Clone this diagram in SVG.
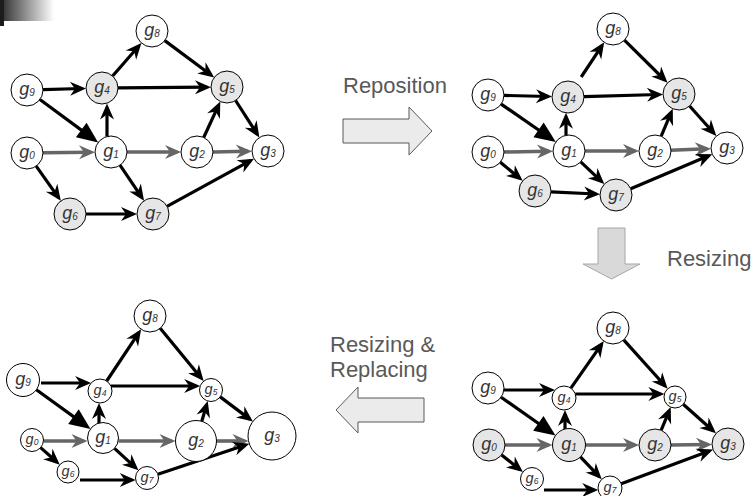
<svg xmlns="http://www.w3.org/2000/svg" width="752" height="496" viewBox="0 0 752 496">
  <defs>
    <linearGradient id="fade" x1="0" y1="0" x2="1" y2="0">
      <stop offset="0" stop-color="#3a3a3a"/>
      <stop offset="1" stop-color="#ffffff"/>
    </linearGradient>
    <marker id="ah" markerUnits="userSpaceOnUse" markerWidth="16" markerHeight="14" refX="12" refY="7" orient="auto" overflow="visible">
      <path d="M0,0 L16,7 L0,14 L5,7 z" fill="#000"/>
    </marker>
    <marker id="ahg" markerUnits="userSpaceOnUse" markerWidth="16" markerHeight="14" refX="12" refY="7" orient="auto" overflow="visible">
      <path d="M0,0 L16,7 L0,14 L5,7 z" fill="#666"/>
    </marker>
    <marker id="ahb" markerUnits="userSpaceOnUse" markerWidth="21" markerHeight="18" refX="15" refY="9" orient="auto" overflow="visible">
      <path d="M0,0 L21,9 L0,18 z" fill="#000"/>
    </marker>
  </defs>
  <style>
    .e { stroke: #000; stroke-width: 3.2; fill: none; marker-end: url(#ah); }
    .g { stroke: #666; stroke-width: 3.6; fill: none; marker-end: url(#ahg); }
    .big { marker-end: url(#ahb); }
    .node circle { fill: #ffffff; stroke: #000; stroke-width: 1; }
    .node.hl circle { fill: #e6e6e6; }
    .node text { font-family: "Liberation Sans", Arial, sans-serif; font-style: italic; font-size: 18px; fill: #333; text-anchor: middle; }
    .node.sm text { font-size: 14.5px; }
    .node text tspan { font-size: 10px; }
    .node.sm text tspan { font-size: 8.5px; }
    .caption { font-family: "Liberation Sans", Arial, sans-serif; font-size: 22px; fill: #595959; }
    .bigarrow { fill: #ebebeb; stroke: #595959; stroke-width: 1; }
    .bigarrow.soft { fill: #d9d9d9; stroke: #a6a6a6; }
  </style>

  <rect width="752" height="496" fill="#ffffff"/>

  <!-- corner tab -->
  <rect x="4" y="0" width="50" height="21" fill="url(#fade)"/>
  <rect x="0" y="0" width="4" height="26" fill="#1c1c1c"/>

  <!-- step arrows and captions -->
  <g id="step-reposition">
    <polygon class="bigarrow" points="343,119 409,119 409,107 432,131 409,155 409,143 343,143"/>
    <text class="caption" x="343" y="93">Reposition</text>
  </g>
  <g id="step-resizing">
    <polygon class="bigarrow soft" points="598,228 625,228 625,264 640,264 611.5,279 583,264 598,264"/>
    <text class="caption" x="667" y="266">Resizing</text>
  </g>
  <g id="step-replacing">
    <polygon class="bigarrow" points="424,398 358,398 358,387 336,410 358,433 358,422 424,422"/>
    <text class="caption" x="330" y="352">Resizing &amp;</text>
    <text class="caption" x="330" y="377">Replacing</text>
  </g>

  <!-- panel A: original layout -->
  <g id="a-connectors">
    <line class="e" x1="43" y1="89.6" x2="82" y2="88.5"/>
    <line class="e big" x1="39.9" y1="99.5" x2="93.3" y2="138.9"/>
    <line class="e" x1="112.6" y1="76" x2="138.8" y2="46"/>
    <line class="e" x1="118" y1="87.9" x2="207" y2="87.2"/>
    <line class="e" x1="164.8" y1="40.6" x2="211" y2="75"/>
    <line class="e" x1="107" y1="136.5" x2="107" y2="107.5"/>
    <line class="g" x1="43" y1="152.8" x2="91" y2="152.2"/>
    <line class="g" x1="127" y1="152" x2="177" y2="152"/>
    <line class="g" x1="213" y1="152" x2="248" y2="151.3"/>
    <line class="e" x1="203.7" y1="137.5" x2="218.6" y2="105.2"/>
    <line class="e" x1="235.6" y1="100.5" x2="257.2" y2="134.2"/>
    <line class="e" x1="120" y1="165.2" x2="141.8" y2="197.4"/>
    <line class="e" x1="36.2" y1="166.1" x2="58.5" y2="197.6"/>
    <line class="e" x1="86" y1="214" x2="133" y2="214"/>
    <line class="e" x1="167" y1="206.3" x2="250.5" y2="160.6"/>
  </g>
  <g id="a-g9" class="node"><circle cx="27" cy="90" r="16"/><text x="27" y="95">g<tspan dy="1">9</tspan></text></g>
  <g id="a-g4" class="node hl"><circle cx="102" cy="88" r="16"/><text x="102" y="93">g<tspan dy="1">4</tspan></text></g>
  <g id="a-g8" class="node"><circle cx="152" cy="31" r="16"/><text x="152" y="36">g<tspan dy="1">8</tspan></text></g>
  <g id="a-g5" class="node hl"><circle cx="227" cy="87" r="16"/><text x="227" y="92">g<tspan dy="1">5</tspan></text></g>
  <g id="a-g0" class="node"><circle cx="27" cy="153" r="16"/><text x="27" y="158">g<tspan dy="1">0</tspan></text></g>
  <g id="a-g1" class="node"><circle cx="111" cy="152" r="16"/><text x="111" y="157">g<tspan dy="1">1</tspan></text></g>
  <g id="a-g2" class="node"><circle cx="197" cy="152" r="16"/><text x="197" y="157">g<tspan dy="1">2</tspan></text></g>
  <g id="a-g3" class="node"><circle cx="268" cy="151" r="16"/><text x="268" y="156">g<tspan dy="1">3</tspan></text></g>
  <g id="a-g6" class="node hl"><circle cx="70" cy="214" r="16"/><text x="70" y="219">g<tspan dy="1">6</tspan></text></g>
  <g id="a-g7" class="node hl"><circle cx="153" cy="214" r="16"/><text x="153" y="219">g<tspan dy="1">7</tspan></text></g>

  <!-- panel B: repositioned -->
  <g id="b-connectors">
    <line class="e" x1="504" y1="95.4" x2="548" y2="96.5"/>
    <line class="e big" x1="501.2" y1="104.1" x2="550.9" y2="138.5"/>
    <line class="e" x1="581.2" y1="77" x2="602" y2="45.7"/>
    <line class="e" x1="584" y1="96.6" x2="659" y2="94.5"/>
    <line class="e" x1="624.4" y1="40.2" x2="664.7" y2="80"/>
    <line class="e" x1="566" y1="135.2" x2="566" y2="116.8"/>
    <line class="g" x1="504" y1="152" x2="549" y2="151.2"/>
    <line class="g" x1="585" y1="151" x2="635" y2="151"/>
    <line class="g" x1="671" y1="150.3" x2="707" y2="148.8"/>
    <line class="e" x1="661.2" y1="136.2" x2="671.2" y2="112.4"/>
    <line class="e" x1="689.6" y1="106" x2="713.7" y2="133"/>
    <line class="e" x1="580.7" y1="161.9" x2="601.4" y2="181.3"/>
    <line class="e" x1="500.3" y1="162.2" x2="519.6" y2="178.2"/>
    <line class="e" x1="551" y1="191.8" x2="596" y2="194"/>
    <line class="e" x1="630.7" y1="188.8" x2="708.6" y2="155.8"/>
  </g>
  <g id="b-g9" class="node"><circle cx="488" cy="95" r="16"/><text x="488" y="100">g<tspan dy="1">9</tspan></text></g>
  <g id="b-g4" class="node hl"><circle cx="568" cy="97" r="16"/><text x="568" y="102">g<tspan dy="1">4</tspan></text></g>
  <g id="b-g8" class="node"><circle cx="613" cy="29" r="16"/><text x="613" y="34">g<tspan dy="1">8</tspan></text></g>
  <g id="b-g5" class="node hl"><circle cx="679" cy="94" r="16"/><text x="679" y="99">g<tspan dy="1">5</tspan></text></g>
  <g id="b-g0" class="node"><circle cx="488" cy="152" r="16"/><text x="488" y="157">g<tspan dy="1">0</tspan></text></g>
  <g id="b-g1" class="node"><circle cx="569" cy="151" r="16"/><text x="569" y="156">g<tspan dy="1">1</tspan></text></g>
  <g id="b-g2" class="node"><circle cx="655" cy="151" r="16"/><text x="655" y="156">g<tspan dy="1">2</tspan></text></g>
  <g id="b-g3" class="node"><circle cx="727" cy="148" r="16"/><text x="727" y="153">g<tspan dy="1">3</tspan></text></g>
  <g id="b-g6" class="node hl"><circle cx="535" cy="191" r="16"/><text x="535" y="196">g<tspan dy="1">6</tspan></text></g>
  <g id="b-g7" class="node hl"><circle cx="616" cy="195" r="16"/><text x="616" y="200">g<tspan dy="1">7</tspan></text></g>

  <!-- panel C: resized -->
  <g id="c-connectors">
    <line class="e" x1="504" y1="390" x2="551" y2="390"/>
    <line class="e big" x1="501.1" y1="397.2" x2="550.6" y2="432"/>
    <line class="e" x1="570.9" y1="388.2" x2="601.5" y2="344.4"/>
    <line class="e" x1="575.3" y1="394" x2="660.4" y2="394"/>
    <line class="e" x1="623.7" y1="339.9" x2="665" y2="385.8"/>
    <line class="e" x1="565" y1="429" x2="565" y2="414"/>
    <line class="g" x1="505" y1="445" x2="548.5" y2="445"/>
    <line class="g" x1="585.5" y1="445" x2="635" y2="445"/>
    <line class="g" x1="671" y1="445" x2="708" y2="444.5"/>
    <line class="e" x1="661.2" y1="430.2" x2="669.2" y2="410.8"/>
    <line class="e" x1="683.2" y1="404.3" x2="713" y2="430.7"/>
    <line class="e" x1="580.4" y1="456.9" x2="599" y2="476.4"/>
    <line class="e" x1="501.6" y1="454.9" x2="519.8" y2="469.4"/>
    <line class="e" x1="544" y1="490" x2="594.2" y2="490"/>
    <line class="e" x1="621.2" y1="483.8" x2="709.3" y2="451"/>
  </g>
  <g id="c-g8" class="node"><circle cx="613" cy="328" r="16"/><text x="613" y="333">g<tspan dy="1">8</tspan></text></g>
  <g id="c-g9" class="node"><circle cx="488" cy="388" r="16"/><text x="488" y="393">g<tspan dy="1">9</tspan></text></g>
  <g id="c-g4" class="node sm"><circle cx="564" cy="398" r="12"/><text x="564" y="402">g<tspan dy="1">4</tspan></text></g>
  <g id="c-g5" class="node sm"><circle cx="675" cy="397" r="11"/><text x="675" y="401">g<tspan dy="1">5</tspan></text></g>
  <g id="c-g0" class="node hl"><circle cx="489" cy="445" r="16"/><text x="489" y="450">g<tspan dy="1">0</tspan></text></g>
  <g id="c-g1" class="node hl"><circle cx="569" cy="445" r="16.5"/><text x="569" y="450">g<tspan dy="1">1</tspan></text></g>
  <g id="c-g2" class="node hl"><circle cx="655" cy="445" r="16"/><text x="655" y="450">g<tspan dy="1">2</tspan></text></g>
  <g id="c-g3" class="node hl"><circle cx="728" cy="444" r="16"/><text x="728" y="449">g<tspan dy="1">3</tspan></text></g>
  <g id="c-g6" class="node sm"><circle cx="532" cy="479" r="11.5"/><text x="532" y="483">g<tspan dy="1">6</tspan></text></g>
  <g id="c-g7" class="node sm"><circle cx="610" cy="488" r="12"/><text x="610" y="492">g<tspan dy="1">7</tspan></text></g>

  <!-- panel D: resized and replaced -->
  <g id="d-connectors">
    <line class="e" x1="41" y1="383" x2="87.1" y2="383"/>
    <line class="e big" x1="36.4" y1="389.7" x2="85.6" y2="425.4"/>
    <line class="e" x1="106.7" y1="381" x2="138.9" y2="332.6"/>
    <line class="e" x1="110.9" y1="386" x2="196.2" y2="386"/>
    <line class="e" x1="160.2" y1="328.3" x2="201.1" y2="378"/>
    <line class="e" x1="99" y1="423" x2="99" y2="407"/>
    <line class="g" x1="43.5" y1="441" x2="83.5" y2="441"/>
    <line class="g" x1="118.5" y1="441" x2="171.5" y2="441"/>
    <line class="g" x1="216.5" y1="441" x2="244.5" y2="441"/>
    <line class="e" x1="201.8" y1="421.3" x2="206.6" y2="404.9"/>
    <line class="e" x1="220.2" y1="396.9" x2="249.7" y2="419.1"/>
    <line class="e" x1="114.5" y1="448.4" x2="135.5" y2="467.6"/>
    <line class="e" x1="40.6" y1="447.6" x2="56.8" y2="462"/>
    <line class="e" x1="80" y1="480" x2="131.7" y2="480"/>
    <line class="e" x1="157.9" y1="474.3" x2="245.5" y2="444.9"/>
  </g>
  <g id="d-g8" class="node"><circle cx="150" cy="316" r="16"/><text x="150" y="321">g<tspan dy="1">8</tspan></text></g>
  <g id="d-g9" class="node"><circle cx="23" cy="380" r="16.5"/><text x="23" y="385">g<tspan dy="1">9</tspan></text></g>
  <g id="d-g4" class="node sm"><circle cx="100" cy="391" r="12"/><text x="100" y="395">g<tspan dy="1">4</tspan></text></g>
  <g id="d-g5" class="node sm"><circle cx="211" cy="390" r="11.5"/><text x="211" y="394">g<tspan dy="1">5</tspan></text></g>
  <g id="d-g0" class="node sm"><circle cx="32" cy="440" r="11.5"/><text x="32" y="444">g<tspan dy="1">0</tspan></text></g>
  <g id="d-g1" class="node"><circle cx="103" cy="438" r="15.5"/><text x="103" y="443">g<tspan dy="1">1</tspan></text></g>
  <g id="d-g2" class="node"><circle cx="196" cy="441" r="20.5"/><text x="196" y="446">g<tspan dy="1">2</tspan></text></g>
  <g id="d-g3" class="node"><circle cx="272" cy="436" r="24"/><text x="272" y="441">g<tspan dy="1">3</tspan></text></g>
  <g id="d-g6" class="node sm"><circle cx="68" cy="472" r="11"/><text x="68" y="476">g<tspan dy="1">6</tspan></text></g>
  <g id="d-g7" class="node sm"><circle cx="147" cy="478" r="11.5"/><text x="147" y="482">g<tspan dy="1">7</tspan></text></g>
</svg>
